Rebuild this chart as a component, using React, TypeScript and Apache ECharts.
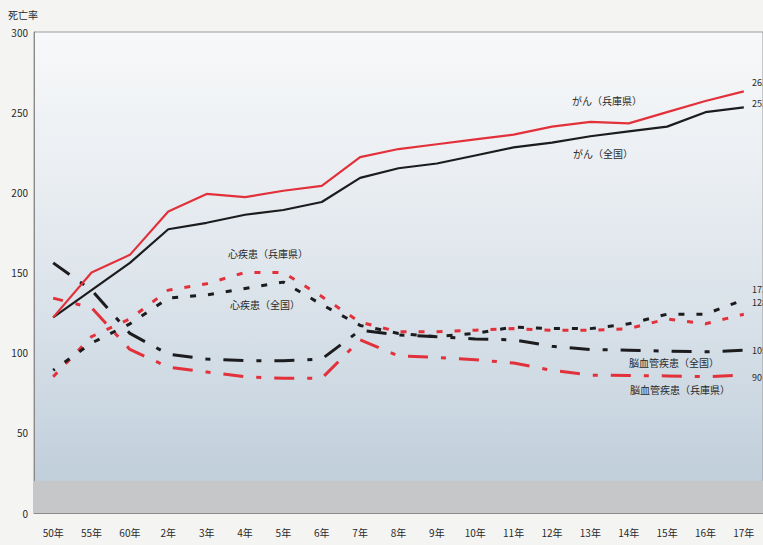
import React, { useEffect, useRef } from "react";
import * as echarts from "echarts";

const categories = ["50年", "55年", "60年", "2年", "3年", "4年", "5年", "6年", "7年", "8年", "9年", "10年", "11年", "12年", "13年", "14年", "15年", "16年", "17年"];
const cancerHyogo = [122, 150, 161, 188, 199, 197, 201, 204, 222, 227, 230, 233, 236, 241, 244, 243, 250, 257, 263];
const cancerNational = [122, 139, 156, 177, 181, 186, 189, 194, 209, 215, 218, 223, 228, 231, 235, 238, 241, 250, 253];
const heartHyogo = [85, 110, 121, 139, 143, 150, 150, 135, 119, 113, 113, 114, 115, 114, 114, 115, 121, 118, 124];
const heartNational = [89, 106, 118, 134, 136, 140, 144, 130, 117, 112, 110, 112, 116, 115, 115, 118, 124, 124, 133];
const strokeNational = [156, 139, 112, 99, 96, 95, 95, 96, 114, 111, 110, 108.5, 108, 104, 102, 101.5, 101, 100.5, 101.5];
const strokeHyogo = [134, 128, 102, 91, 88, 85, 84, 84, 108, 98, 97, 95.6, 93.5, 89, 86, 85.7, 85.5, 85, 86];
const yTicks = { min: 0, max: 300, interval: 50 };
const bandTop = 20;
const endLabels = ["263", "253", "173", "128", "105", "90"];
const seriesNames = ["がん（兵庫県）", "がん（全国）", "心疾患（兵庫県）", "心疾患（全国）", "脳血管疾患（全国）", "脳血管疾患（兵庫県）"];

const FONT = "'Noto Sans CJK JP', 'Noto Sans', sans-serif";
const RED = "#e2313a";
const BLACK = "#1c1c1e";

export default function App() {
  const ref = useRef<HTMLDivElement>(null);
  useEffect(() => {
    if (!ref.current) return;
    const chart = echarts.init(ref.current, null, { renderer: "svg" });
    const dotted = [6, 12];
    const dashDot = [20, 13, 5, 13];
    const txt = (text: string, x: number, y: number, size = 10) => ({
      type: "text",
      x,
      y,
      silent: true,
      style: { text, fill: "#2a2a2a", font: `${size}px ${FONT}`, textAlign: "left", textVerticalAlign: "middle" },
    });
    chart.setOption({
      animation: false,
      backgroundColor: "#f4f4f3",
      textStyle: { fontFamily: FONT },
      grid: {
        left: 34,
        top: 32,
        width: 731,
        height: 481,
        show: true,
        borderColor: "#9a9a9a",
        borderWidth: 1,
        backgroundColor: new echarts.graphic.LinearGradient(0, 0, 0, 1, [
          { offset: 0, color: "#f7f8f9" },
          { offset: 0.3, color: "#eaeef2" },
          { offset: 0.6, color: "#d8e1e9" },
          { offset: 1, color: "#bccbd8" },
        ]),
      },
      xAxis: {
        type: "category",
        data: categories,
        boundaryGap: true,
        axisLine: { lineStyle: { color: "#8a8a8a", width: 1 } },
        axisTick: { inside: true, length: 4, lineStyle: { color: "#8a8a8a" } },
        axisLabel: { color: "#2a2a2a", fontSize: 10, margin: 14, fontFamily: FONT },
      },
      yAxis: {
        type: "value",
        min: yTicks.min,
        max: yTicks.max,
        interval: yTicks.interval,
        splitLine: { show: false },
        axisLine: { show: true, lineStyle: { color: "#8a8a8a", width: 1 } },
        axisTick: { show: false },
        axisLabel: { color: "#2a2a2a", fontSize: 10, margin: 6, fontFamily: FONT },
      },
      series: [
        {
          name: seriesNames[0], type: "line", data: cancerHyogo, symbol: "none",
          lineStyle: { color: RED, width: 2.2 }, z: 6,
          markArea: {
            silent: true,
            itemStyle: { color: "#c6c7c9" },
            data: [[{ yAxis: 0 }, { yAxis: bandTop }]],
          },
        },
        { name: seriesNames[1], type: "line", data: cancerNational, symbol: "none", lineStyle: { color: BLACK, width: 2.2 }, z: 5 },
        { name: seriesNames[2], type: "line", data: heartHyogo, symbol: "none", lineStyle: { color: RED, width: 3, type: dotted }, z: 4 },
        { name: seriesNames[3], type: "line", data: heartNational, symbol: "none", lineStyle: { color: BLACK, width: 3, type: dotted, dashOffset: 4 }, z: 4 },
        { name: seriesNames[4], type: "line", data: strokeNational, symbol: "none", lineStyle: { color: BLACK, width: 3, type: dashDot }, z: 3 },
        { name: seriesNames[5], type: "line", data: strokeHyogo, symbol: "none", lineStyle: { color: RED, width: 3, type: dashDot, dashOffset: 10 }, z: 3 },
      ],
      graphic: [
        txt("死亡率", 8, 14),
        txt(seriesNames[0], 572, 100),
        txt(seriesNames[1], 573, 153),
        txt(seriesNames[2], 228, 253),
        txt(seriesNames[3], 230, 304),
        txt(seriesNames[4], 629, 362),
        txt(seriesNames[5], 630, 389),
        txt(endLabels[0], 752, 82, 9),
        txt(endLabels[1], 752, 103, 9),
        txt(endLabels[2], 752, 289, 9),
        txt(endLabels[3], 752, 302, 9),
        txt(endLabels[4], 752, 350, 9),
        txt(endLabels[5], 752, 377, 9),
      ],
    });
    return () => chart.dispose();
  }, []);
  return <div ref={ref} style={{ position: "fixed", left: 0, top: 0, width: 763, height: 545 }} />;
}
